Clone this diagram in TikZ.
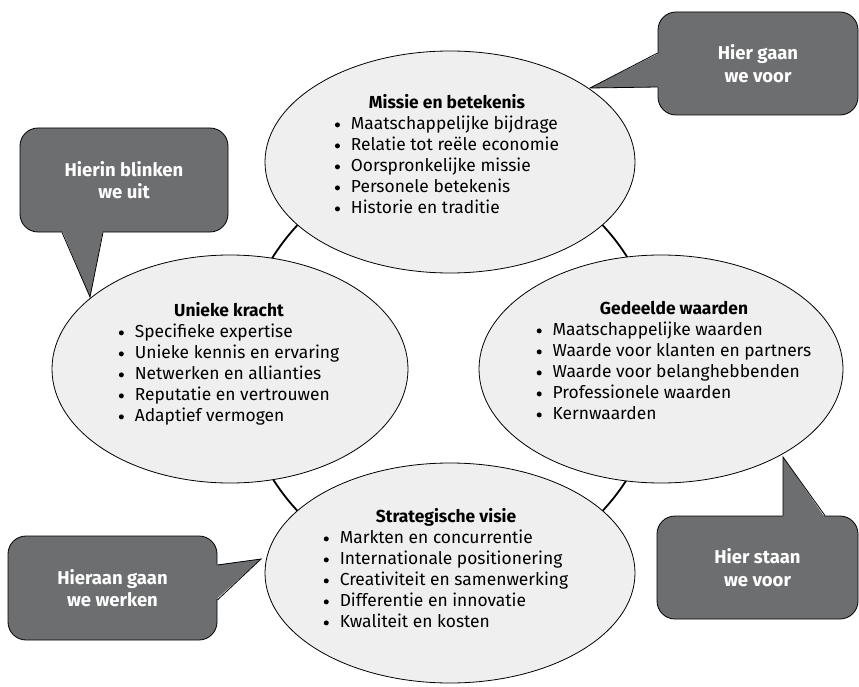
\documentclass[tikz,border=0pt]{standalone}
\usepackage{fontspec}
\setmainfont{Fira Sans}
\usetikzlibrary{shapes.geometric}
\definecolor{ellfill}{HTML}{EFEFEF}
\definecolor{callfill}{HTML}{6D6E70}
\newcommand{\bul}{\makebox[16pt][l]{\tikz[baseline=0pt]\fill[black] (2.7pt,4.8pt) circle[radius=2.5pt];}}
\newcommand{\ttl}[1]{\multicolumn{1}{@{}c@{}}{\bfseries #1}}
\begin{document}
\begin{tikzpicture}[x=1pt,y=-1pt,
  ell/.style={ellipse, draw=black, line width=0.8pt, fill=ellfill, inner sep=0pt, outer sep=0pt},
  blk/.style={font=\fontsize{17.4}{21}\selectfont, inner sep=0pt},
  callbox/.style={draw=black, line width=0.8pt, fill=callfill, rounded corners=18pt, inner sep=0pt, font=\fontsize{18.5}{22.5}\selectfont\bfseries, text=white, align=center},
  ptrfill/.style={fill=callfill},
  ptrline/.style={draw=black, line width=0.8pt, line join=miter}]
\useasboundingbox (0,0) rectangle (859,687);
% ring
\node[circle, draw=black, line width=1.8pt, minimum size=418pt, inner sep=0pt] (ring) at (450,368) {};
% ellipses
\node[ell, minimum width=370pt, minimum height=222pt] (top) at (450,162) {};
\node[ell, minimum width=356pt, minimum height=228pt] (left) at (230,369) {};
\node[ell, minimum width=364pt, minimum height=228pt] (right) at (661,369) {};
\node[ell, minimum width=370pt, minimum height=220pt] (bottom) at (450,573) {};
% texts
\node[blk] (ttop) at (447,157) {\begin{tabular}{@{}l@{}}\ttl{Missie en betekenis}\\
\bul Maatschappelijke bijdrage\\
\bul Relatie tot reële economie\\
\bul Oorspronkelijke missie\\
\bul Personele betekenis\\
\bul Historie en traditie\end{tabular}};
\node[blk] (tleft) at (229,365) {\begin{tabular}{@{}l@{}}\ttl{Unieke kracht}\\
\bul Specifieke expertise\\
\bul Unieke kennis en ervaring\\
\bul Netwerken en allianties\\
\bul Reputatie en vertrouwen\\
\bul Adaptief vermogen\end{tabular}};
\node[blk] (tright) at (674,363) {\begin{tabular}{@{}l@{}}\ttl{Gedeelde waarden}\\
\bul Maatschappelijke waarden\\
\bul Waarde voor klanten en partners\\
\bul Waarde voor belanghebbenden\\
\bul Professionele waarden\\
\bul Kernwaarden\end{tabular}};
\node[blk] (tbottom) at (446,571) {\begin{tabular}{@{}l@{}}\ttl{Strategische visie}\\
\bul Markten en concurrentie\\
\bul Internationale positionering\\
\bul Creativiteit en samenwerking\\
\bul Differentie en innovatie\\
\bul Kwaliteit en kosten\end{tabular}};
% callouts
\node[callbox, minimum width=200pt, minimum height=103pt] (c1) at (758,63.5) {Hier gaan\\we voor};
\node[callbox, minimum width=208pt, minimum height=104pt] (c2) at (124,180) {Hierin blinken\\we uit};
\node[callbox, minimum width=209pt, minimum height=104pt] (c3) at (112.5,588) {Hieraan gaan\\we werken};
\node[callbox, minimum width=201pt, minimum height=103pt] (c4) at (757.5,567.5) {Hier staan\\we voor};
\coordinate (tip1) at (590,88);
\coordinate (tip2) at (90,297);
\coordinate (tip3) at (261,559);
\coordinate (tip4) at (783,457);
% pointers
\fill[ptrfill] ([shift={(2,-10.5)}]c1.west) -- (tip1) -- ([shift={(2,23.5)}]c1.west) -- cycle;
\draw[ptrline] ([shift={(0,-10.5)}]c1.west) -- (tip1) -- ([shift={(0,23.5)}]c1.west);
\fill[ptrfill] ([shift={(-62,-2)}]c2.south) -- (tip2) -- ([shift={(-21,-2)}]c2.south) -- cycle;
\draw[ptrline] ([shift={(-62,0)}]c2.south) -- (tip2) -- ([shift={(-21,0)}]c2.south);
\fill[ptrfill] ([shift={(-2,-23)}]c3.east) -- (tip3) -- ([shift={(-2,12)}]c3.east) -- cycle;
\draw[ptrline] ([shift={(0,-23)}]c3.east) -- (tip3) -- ([shift={(0,12)}]c3.east);
\fill[ptrfill] ([shift={(25.5,2)}]c4.north) -- (tip4) -- ([shift={(67.5,2)}]c4.north) -- cycle;
\draw[ptrline] ([shift={(25.5,0)}]c4.north) -- (tip4) -- ([shift={(67.5,0)}]c4.north);
\end{tikzpicture}
\end{document}
